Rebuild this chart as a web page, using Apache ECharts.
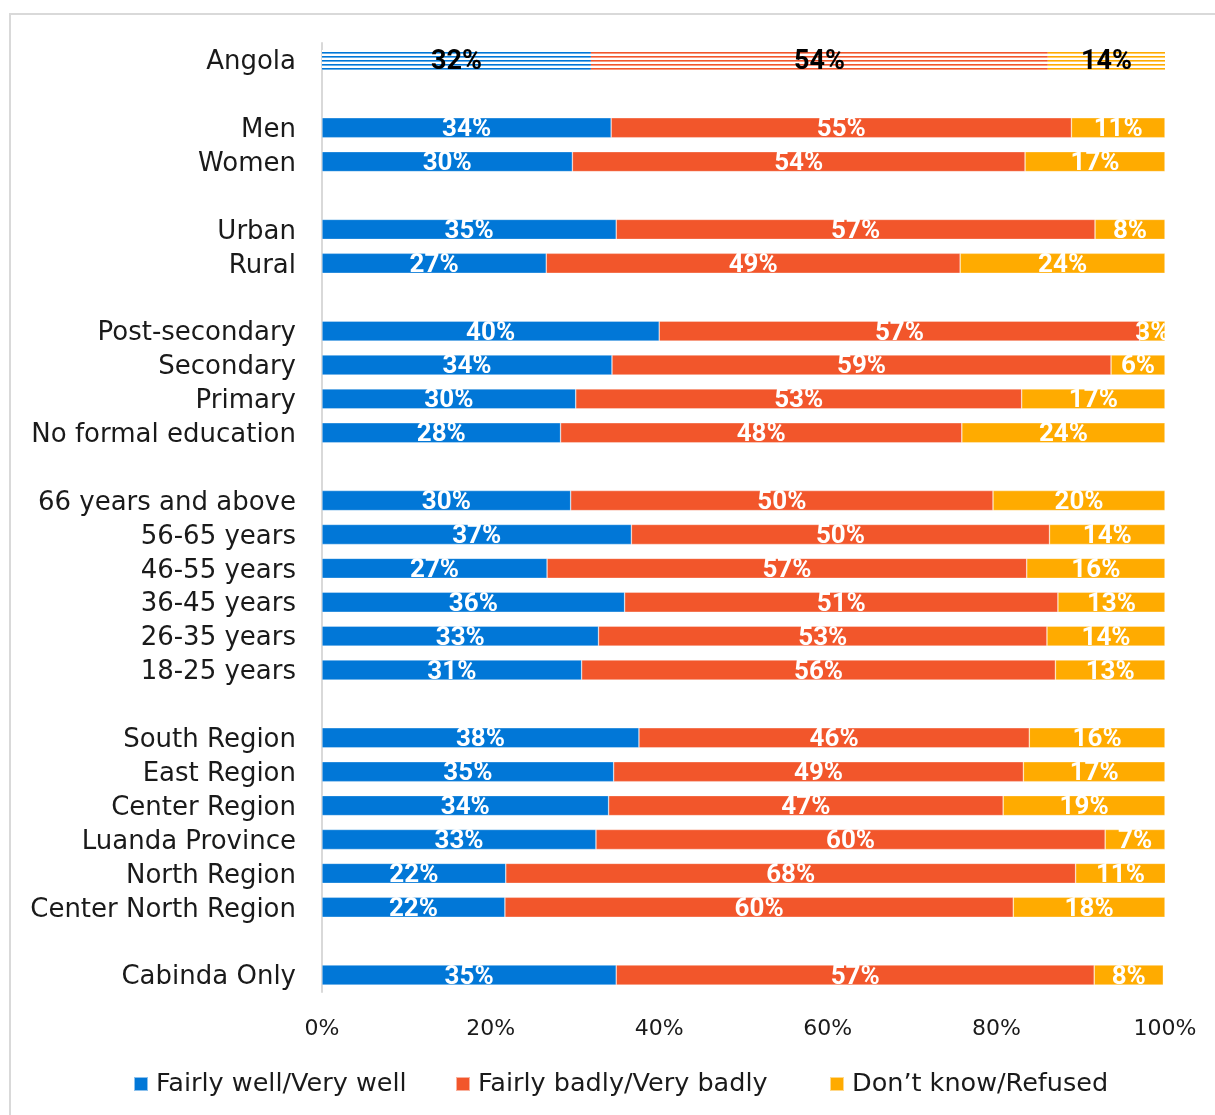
<!DOCTYPE html>
<html>
<head>
<meta charset="utf-8">
<script src="https://cdn.jsdelivr.net/npm/echarts@6/dist/echarts.min.js"></script>
<style>
html,body{margin:0;padding:0;background:#fff;}
#chart{width:1215px;height:1115px;}
</style>
</head>
<body>
<div id="chart"></div>
<script>
const categories = ['Angola','','Men','Women','','Urban','Rural','','Post-secondary','Secondary','Primary','No formal education','','66 years and above','56-65 years','46-55 years','36-45 years','26-35 years','18-25 years','','South Region','East Region','Center Region','Luanda Province','North Region','Center North Region','','Cabinda Only'];
const seriesNames = ['Fairly well/Very well','Fairly badly/Very badly','Don\u2019t know/Refused'];
const fairlyWell = [31.9,null,34.3,29.7,null,34.9,26.6,null,40.0,34.4,30.1,28.3,null,29.5,36.7,26.7,35.9,32.8,30.8,null,37.6,34.6,34.0,32.5,21.8,21.7,null,34.9];
const fairlyBadly = [54.2,null,54.6,53.7,null,56.8,49.1,null,57.0,59.2,52.9,47.6,null,50.1,49.6,56.9,51.4,53.2,56.2,null,46.3,48.6,46.8,60.4,67.6,60.3,null,56.7];
const dontKnow = [13.9,null,11.1,16.6,null,8.3,24.3,null,3.0,6.4,17.0,24.1,null,20.4,13.7,16.4,12.7,14.0,13.0,null,16.1,16.8,19.2,7.1,10.7,18.0,null,8.2];
const xTicks = [0,20,40,60,80,100];
const colors = ['#0177d7','#f2562b','#ffab00'];
const legendLefts = [133, 455, 829];

function stripe(color){
  const c = document.createElement('canvas');
  c.width = 4; c.height = 4;
  const ctx = c.getContext('2d');
  ctx.fillStyle = '#ffffff';
  ctx.fillRect(0,0,4,4);
  ctx.fillStyle = color;
  ctx.fillRect(0,0,4,1.6);
  return c;
}

const chart = echarts.init(document.getElementById('chart'), null, {renderer:'canvas'});

function makeSeries(idx, values){
  return {
    name: seriesNames[idx],
    type: 'bar',
    stack: 'total',
    barWidth: 20,
    itemStyle: {color: colors[idx], borderColor: 'rgba(255,255,255,0.55)', borderWidth: 0.6},
    label: {
      show: true,
      position: 'inside',
      color: '#fff',
      fontFamily: 'Roboto',
      fontWeight: 'bold',
      fontSize: 26,
      offset: [0, 2],
      formatter: p => (p.value == null ? '' : Math.round(p.value) + '%')
    },
    data: values.map((v, i) => {
      if (i === 0) {
        return {
          value: v,
          itemStyle: {color: {image: stripe(colors[idx]), repeat: 'repeat'}, borderWidth: 0},
          label: {color: '#000', fontSize: 27}
        };
      }
      return v;
    })
  };
}

chart.setOption({
  animation: false,
  backgroundColor: '#fff',
  graphic: [{
    type: 'rect',
    shape: {x: 10, y: 14, width: 1400, height: 1300},
    style: {fill: 'none', stroke: '#d9d9d9', lineWidth: 2},
    silent: true
  }],
  grid: {left: 322, right: 50, top: 43, bottom: 123, containLabel: false},
  legend: seriesNames.map((name, i) => ({
    data: [name],
    left: legendLefts[i],
    top: 1071,
    padding: 0,
    icon: 'rect',
    itemWidth: 14,
    itemHeight: 14,
    textStyle: {fontFamily: 'DejaVu Sans', fontSize: 25.5, color: '#1a1a1a', padding: [0,0,0,3]}
  })),
  xAxis: {
    type: 'value',
    min: 0,
    max: 100,
    interval: 20,
    splitLine: {show: false},
    axisLine: {show: false},
    axisTick: {show: false},
    axisLabel: {
      margin: 26,
      fontFamily: 'DejaVu Sans',
      fontSize: 22,
      color: '#1a1a1a',
      formatter: v => (xTicks.indexOf(v) >= 0 ? v + '%' : '')
    }
  },
  yAxis: {
    type: 'category',
    inverse: true,
    data: categories,
    axisLine: {show: true, lineStyle: {color: '#d9d9d9', width: 2}},
    axisTick: {show: false},
    axisLabel: {
      margin: 26,
      formatter: v => (v === '' ? '' : '{l|' + v + '}'),
      rich: {
        l: {
          fontFamily: 'DejaVu Sans',
          fontSize: 26,
          color: '#1a1a1a',
          padding: [5, 0, 0, 0]
        }
      }
    }
  },
  series: [
    makeSeries(0, fairlyWell),
    makeSeries(1, fairlyBadly),
    makeSeries(2, dontKnow)
  ]
});
</script>
</body>
</html>
